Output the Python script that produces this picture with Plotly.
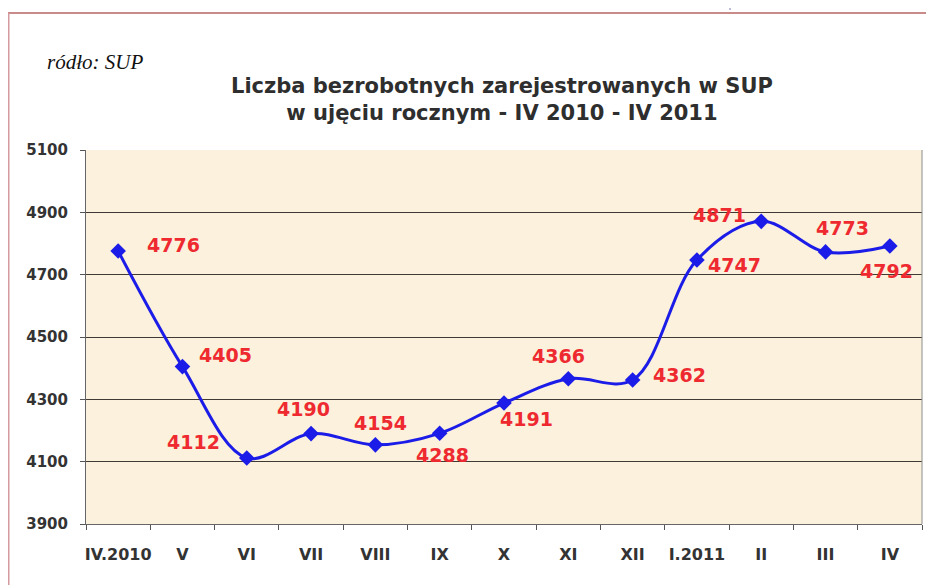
import plotly.graph_objects as go

categories = ["IV.2010", "V", "VI", "VII", "VIII", "IX", "X", "XI", "XII", "I.2011", "II", "III", "IV"]
values = [4776, 4405, 4112, 4190, 4154, 4191, 4288, 4366, 4362, 4747, 4871, 4773, 4792]
label_texts = ["4776", "4405", "4112", "4190", "4154", "4288", "4191", "4366", "4362", "4747", "4871", "4773", "4792"]
y_ticks = [3900, 4100, 4300, 4500, 4700, 4900, 5100]

# label placement offsets (pixels) per point: right/down positive
label_dx = [55, 43, -53, -8, 5, 3, 22, -10, 47, 38, -42, 17, -3]
label_dy = [-6, -12, -16, -25, -22, 22, 16, -23, -5, 5, -6, -24, 25]

# browser body has 8px margin; reference coords are page coords
OFF = 8
W, H = 934 - OFF, 585 - OFF
ml, mr, mt, mb = 86 - OFF, W - (922 - OFF), 150 - OFF, H - (524 - OFF)

LABEL_FONT = "DejaVu Sans, Verdana, sans-serif"

fig = go.Figure()
fig.add_trace(go.Scatter(
    x=categories, y=values, mode="lines+markers",
    line=dict(color="#1C1CE8", width=3, shape="spline", smoothing=1.0),
    marker=dict(symbol="diamond", size=12, color="#1C1CE8"),
    hoverinfo="skip", showlegend=False,
))

for c, v, t, dx, dy in zip(categories, values, label_texts, label_dx, label_dy):
    fig.add_annotation(x=c, y=v, text=f"<b>{t}</b>", showarrow=False, xshift=dx, yshift=-dy,
                       font=dict(family=LABEL_FONT, size=19, color="#EE2A30"))

pw = W - ml - mr
ph = H - mt - mb
def px(x):
    return (x - OFF - ml) / pw
def py(y):
    return (H - mb - (y - OFF)) / ph

shapes = [
    dict(type="line", xref="paper", yref="paper", x0=px(7), x1=px(940), y0=py(13), y1=py(13),
         line=dict(color="#C98A8A", width=2)),
    dict(type="line", xref="paper", yref="paper", x0=px(8.5), x1=px(8.5), y0=py(13), y1=py(600),
         line=dict(color="#D49A9E", width=2)),
    dict(type="line", xref="paper", yref="paper", x0=px(730), x1=px(730), y0=py(8), y1=py(10),
         line=dict(color="#7A7AB0", width=1)),
    dict(type="line", xref="paper", yref="paper", x0=1, x1=1, y0=0, y1=1,
         line=dict(color="#8C8C8C", width=1)),
]
fig.update_layout(shapes=shapes)

fig.add_annotation(xref="paper", yref="paper", x=px(45), y=py(62), xanchor="left", yanchor="middle",
                   text="<i>ródło: SUP</i>", showarrow=False,
                   font=dict(family="Liberation Serif, Times New Roman, serif", size=21, color="#111111"))
fig.add_annotation(xref="paper", yref="paper", x=px(502), y=py(100), xanchor="center", yanchor="middle",
                   text="<b>Liczba bezrobotnych zarejestrowanych w SUP<br>w ujęciu rocznym - IV 2010 - IV 2011</b>",
                   showarrow=False,
                   font=dict(family=LABEL_FONT, size=21, color="#2E2E2E"))

tickfont_y = dict(family=LABEL_FONT, size=15, color="#333333")
tickfont_x = dict(family=LABEL_FONT, size=16, color="#333333")
fig.update_layout(
    width=W, height=H,
    margin=dict(l=ml, r=mr, t=mt, b=mb, autoexpand=False),
    paper_bgcolor="white",
    plot_bgcolor="#FBF1DC",
    xaxis=dict(type="category", tickson="boundaries", ticks="outside", ticklen=5,
               tickcolor="#555555", showgrid=False, showline=True, linecolor="#666666",
               linewidth=1, tickfont=tickfont_x, ticklabelstandoff=16, tickangle=0,
               tickmode="array", tickvals=categories,
               ticktext=[f"<b>{c}</b>" for c in categories],
               range=[-0.5, 12.5], fixedrange=True),
    yaxis=dict(range=[3900, 5100], tickvals=y_ticks, ticktext=[f"<b>{v}</b>" for v in y_ticks],
               ticks="outside", ticklen=5, tickcolor="#555555", ticklabelstandoff=9,
               showgrid=True, gridcolor="#3F3A33", gridwidth=1,
               showline=True, linecolor="#666666", linewidth=1, zeroline=False,
               tickfont=tickfont_y, fixedrange=True),
)

fig.write_html("out.html")
